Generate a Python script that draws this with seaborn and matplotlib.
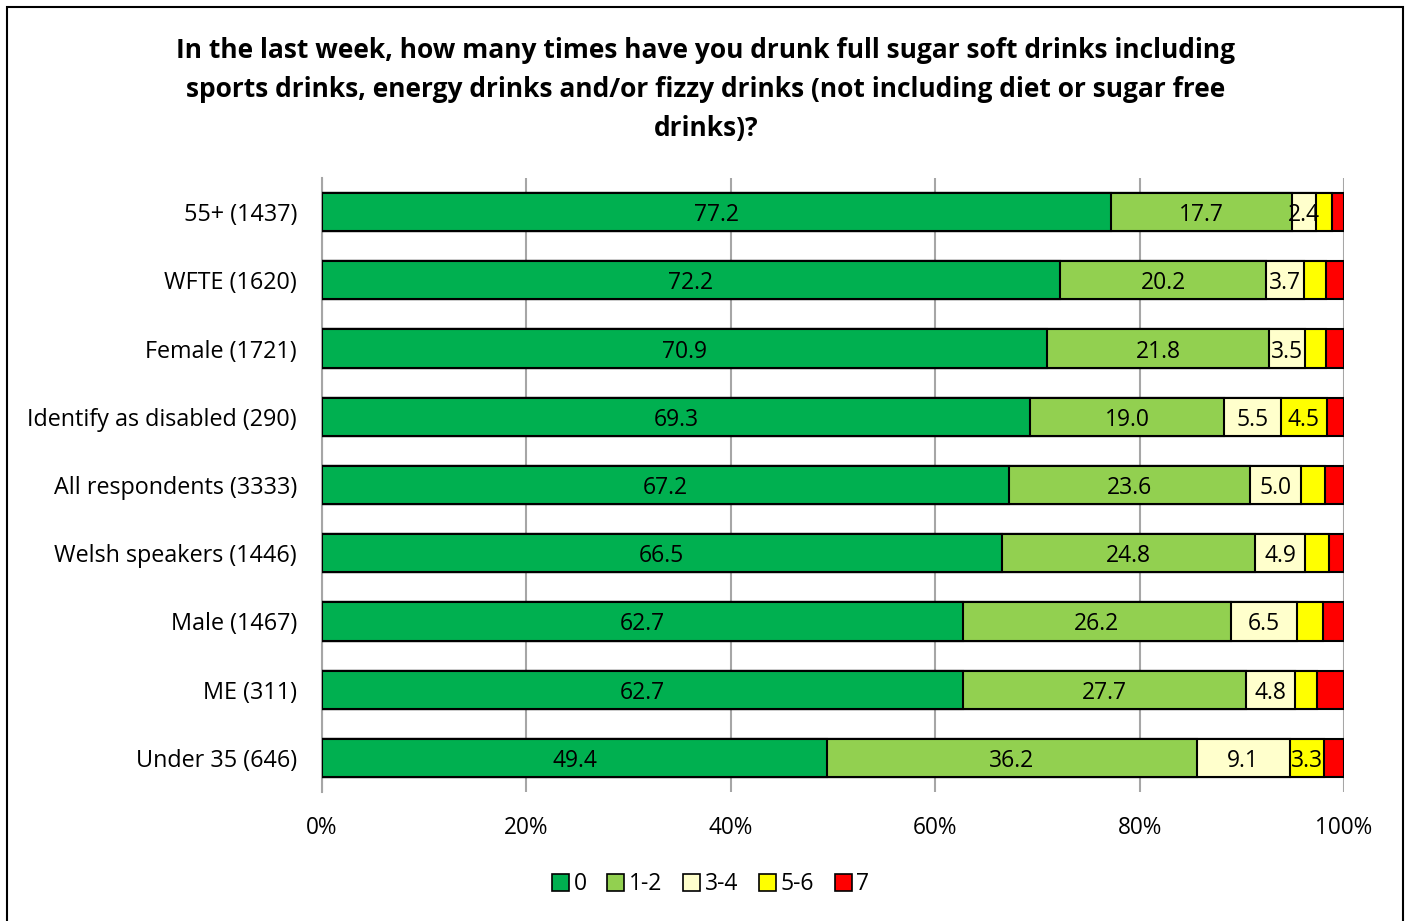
import numpy as np
import pandas as pd
import matplotlib
matplotlib.use("Agg")
import matplotlib.pyplot as plt
from matplotlib.patches import Patch, Rectangle
import seaborn as sns

# data (percentages)
groups = ["55+ (1437)", "WFTE (1620)", "Female (1721)", "Identify as disabled (290)",
          "All respondents (3333)", "Welsh speakers (1446)", "Male (1467)", "ME (311)",
          "Under 35 (646)"]
answers = ["0", "1-2", "3-4", "5-6", "7"]
zero = [77.2, 72.2, 70.9, 69.3, 67.2, 66.5, 62.7, 62.7, 49.4]
one_two = [17.7, 20.2, 21.8, 19.0, 23.6, 24.8, 26.2, 27.7, 36.2]
three_four = [2.4, 3.7, 3.5, 5.5, 5.0, 4.9, 6.5, 4.8, 9.1]
five_six = [1.5, 2.1, 2.0, 4.5, 2.3, 2.3, 2.5, 2.2, 3.3]
seven = [1.2, 1.8, 1.8, 1.7, 1.9, 1.5, 2.1, 2.6, 2.0]
colors = ["#00B050", "#92D050", "#FFFFCC", "#FFFF00", "#FF0000"]

title = ("In the last week, how many times have you drunk full sugar soft drinks including\n"
         "sports drinks, energy drinks and/or fizzy drinks (not including diet or sugar free\n"
         "drinks)?")

sns.set_style("white")
plt.rcParams["font.family"] = ["Open Sans", "DejaVu Sans"]
plt.rcParams["text.color"] = "black"
plt.rcParams["xtick.color"] = "black"
plt.rcParams["ytick.color"] = "black"

vals = np.array([zero, one_two, three_four, five_six, seven])
cum = vals.cumsum(axis=0)
df = pd.DataFrame({"group": groups})
for i, a in enumerate(answers):
    df["cum_" + a] = cum[i]

fig = plt.figure(figsize=(14.07, 9.21), dpi=100)
ax = fig.add_axes([0.2289, 0.140, 0.7263, 0.6667])

# draw stacked bars from the outermost layer inwards
for i in range(len(answers) - 1, -1, -1):
    sns.barplot(data=df, x="cum_" + answers[i], y="group", color=colors[i],
                edgecolor="black", linewidth=1.5, width=0.56, orient="h",
                saturation=1, ax=ax, zorder=3)

# data labels
for i, a in enumerate(answers):
    for j in range(len(groups)):
        v = vals[i, j]
        if i >= 3 and (i == 4 or v < 3):
            continue
        left = cum[i, j] - v
        ax.text(left + v / 2, j, f"{v:.1f}", ha="center", va="center_baseline",
                fontsize=16.5, color="black", zorder=5)

ax.set_xlim(0, 100)
ax.set_ylim(len(groups) - 0.5, -0.5)
ax.set_xticks(np.arange(0, 101, 20))
ax.set_xticklabels([f"{t}%" for t in range(0, 101, 20)], fontsize=16.3)
ax.tick_params(axis="x", length=0, pad=17)
ax.tick_params(axis="y", length=0, pad=18, labelsize=16.8)
ax.set_xlabel("")
ax.set_ylabel("")
ax.grid(axis="x", color="#A6A6A6", linewidth=1.5, zorder=0)
ax.set_axisbelow(True)
for s in ["top", "right", "bottom"]:
    ax.spines[s].set_visible(False)
ax.spines["left"].set_color("#A6A6A6")
ax.spines["left"].set_linewidth(1.5)

fig.text(0.5017, 0.9595, title, ha="center", va="top", fontsize=19,
         fontweight="bold", linespacing=1.56)

handles = [Patch(facecolor=c, edgecolor="black", linewidth=1.2) for c in colors]
fig.legend(handles, answers, loc="center", bbox_to_anchor=(0.505, 0.040), ncol=5,
           frameon=False, fontsize=16.5, handlelength=0.75, handleheight=0.75,
           handletextpad=0.2, columnspacing=0.9)

fig.patches.append(Rectangle((0.005, -0.01), 0.992, 1.002, transform=fig.transFigure,
                             fill=False, edgecolor="black", linewidth=1.5))

fig.savefig("out.png", dpi=100)
